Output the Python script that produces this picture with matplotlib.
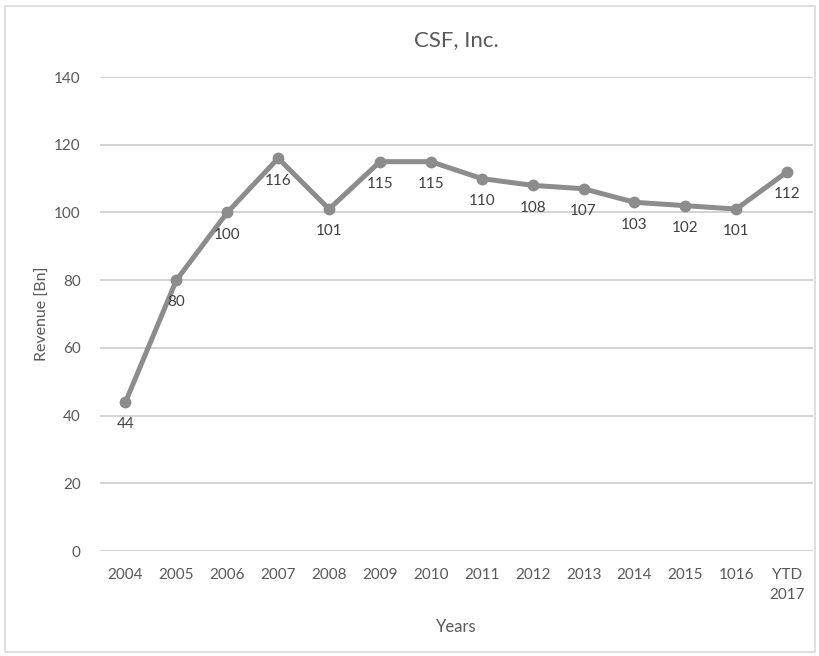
import matplotlib
matplotlib.use("Agg")
import matplotlib.pyplot as plt
from matplotlib.patches import Rectangle

categories = ["2004", "2005", "2006", "2007", "2008", "2009", "2010",
              "2011", "2012", "2013", "2014", "2015", "1016", "YTD\n2017"]
revenue = [44, 80, 100, 116, 101, 115, 115, 110, 108, 107, 103, 102, 101, 112]

TEXT = "#595959"
LINE = "#8c8c8c"
GRID = "#d0d0d0"

plt.rcParams["font.family"] = ["Lato", "DejaVu Sans"]

fig = plt.figure(figsize=(8.2, 6.56), dpi=100)
fig.patches.append(Rectangle((0.006, 0.006), 0.988, 0.985, transform=fig.transFigure,
                             fill=False, edgecolor="#d9d9d9", linewidth=1.2))
ax = fig.add_axes([0.122, 0.16, 0.869, 0.7226])

x = list(range(len(categories)))
ax.plot(x, revenue, color=LINE, linewidth=3.6, marker="o", markersize=7.5,
        markerfacecolor=LINE, markeredgecolor=LINE, zorder=3)

for xi, v in zip(x, revenue):
    ax.annotate(str(v), (xi, v), xytext=(0, -11), textcoords="offset points",
                ha="center", va="top", fontsize=11, color="#404040")

ax.set_xlim(-0.5, len(categories) - 0.5)
ax.set_ylim(0, 140)
ax.set_yticks(range(0, 141, 20))
ax.set_xticks(x)
ax.set_xticklabels(categories, linespacing=1.6)
ax.grid(axis="y", color=GRID, linewidth=1.3)
ax.set_axisbelow(True)
for s in ax.spines.values():
    s.set_visible(False)
ax.tick_params(length=0, labelsize=11, labelcolor=TEXT, pad=12)
ax.tick_params(axis="y", pad=14)

ax.set_title("CSF, Inc.", fontsize=16, color=TEXT, pad=22)
ax.set_xlabel("Years", fontsize=12, color=TEXT, labelpad=12)
ax.set_ylabel("Revenue [Bn]", fontsize=11.5, color=TEXT, labelpad=3)

fig.savefig("out.png", dpi=100)
